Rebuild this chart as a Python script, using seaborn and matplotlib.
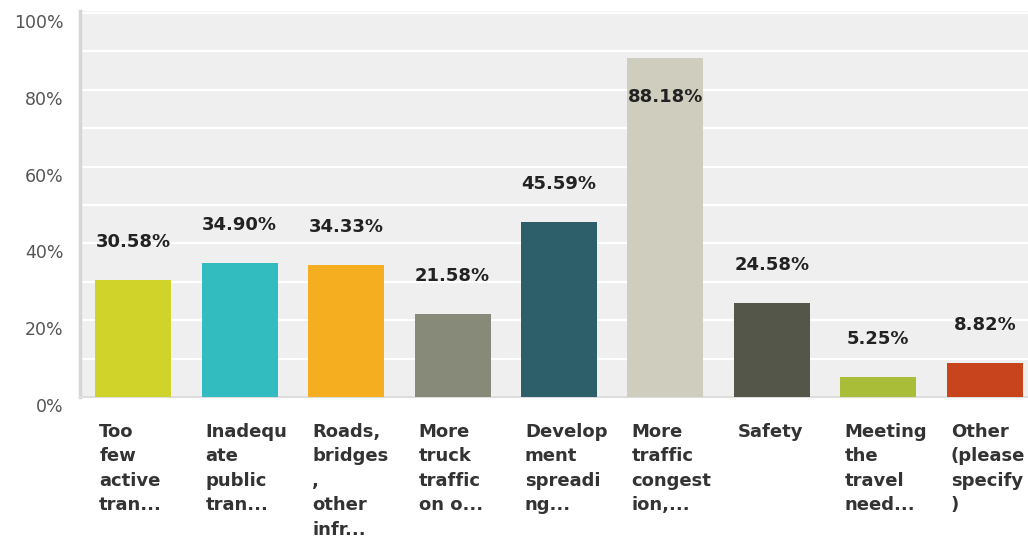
import matplotlib
matplotlib.use("Agg")
import matplotlib.pyplot as plt
import matplotlib.transforms as mtransforms
import seaborn as sns
import pandas as pd

categories = [
    "Too\nfew\nactive\ntran...",
    "Inadequ\nate\npublic\ntran...",
    "Roads,\nbridges\n,\nother\ninfr...",
    "More\ntruck\ntraffic\non o...",
    "Develop\nment\nspreadi\nng...",
    "More\ntraffic\ncongest\nion,...",
    "Safety",
    "Meeting\nthe\ntravel\nneed...",
    "Other\n(please\nspecify\n)",
]
values = [30.58, 34.90, 34.33, 21.58, 45.59, 88.18, 24.58, 5.25, 8.82]
value_labels = ["30.58%", "34.90%", "34.33%", "21.58%", "45.59%", "88.18%", "24.58%", "5.25%", "8.82%"]
colors = ["#d0d32a", "#33bcc0", "#f5ae1f", "#878a78", "#2d5f6b", "#cfcebe", "#55564a", "#a9bd38", "#c8441c"]
y_ticks = [0, 20, 40, 60, 80, 100]
y_tick_labels = ["0%", "20%", "40%", "60%", "80%", "100%"]

sns.set_style("white")
plt.rcParams["font.family"] = ["DejaVu Sans"]

fig = plt.figure(figsize=(10.28, 5.40), dpi=100)
ax = fig.add_axes([80 / 1028, 143 / 540, 958 / 1028, 386 / 540])

df = pd.DataFrame({"cat": categories, "val": values})
sns.barplot(data=df, x="cat", y="val", hue="cat", palette=colors, width=0.715,
            saturation=1, legend=False, ax=ax, zorder=3, linewidth=0, edgecolor="none")

ax.set_facecolor("#efefef")
ax.set_xlim(-0.5, 8.5)
ax.set_ylim(0, 100.5)
ax.set_yticks(y_ticks)
ax.set_yticklabels(y_tick_labels, fontsize=12.5, color="#555555")
ax.set_yticks(range(0, 91, 10), minor=True)
ax.grid(axis="y", which="both", color="white", linewidth=1.6, zorder=0)
ax.grid(axis="x", visible=False)
ax.set_axisbelow(True)
ax.set_xlabel("")
ax.set_ylabel("")

for s in ["top", "right"]:
    ax.spines[s].set_visible(False)
ax.spines["left"].set_color("#d6d6d6")
ax.spines["left"].set_linewidth(2.5)
ax.spines["bottom"].set_color("#dddddd")
ax.spines["bottom"].set_linewidth(1.5)

ax.tick_params(axis="y", which="both", length=0, pad=12)
ax.tick_params(axis="x", length=0, pad=18.5)

# y tick labels sit slightly below their gridlines
ydx = mtransforms.ScaledTranslation(0, -8 / 100, fig.dpi_scale_trans)
for lab in ax.get_yticklabels():
    lab.set_transform(lab.get_transform() + ydx)

xdx = mtransforms.ScaledTranslation(-34 / 100, 0, fig.dpi_scale_trans)
for lab in ax.get_xticklabels():
    lab.set_horizontalalignment("left")
    lab.set_verticalalignment("top")
    lab.set_fontweight("bold")
    lab.set_fontsize(13)
    lab.set_color("#333333")
    lab.set_linespacing(1.47)
    lab.set_transform(lab.get_transform() + xdx)

for i, (v, t) in enumerate(zip(values, value_labels)):
    off = -39 if v > 80 else 38
    ax.annotate(t, xy=(i, v), xytext=(0, off * 0.72), textcoords="offset points",
                ha="center", va="center", fontsize=13, fontweight="bold",
                color="#222222", zorder=5)

fig.savefig("out.png", dpi=100)
